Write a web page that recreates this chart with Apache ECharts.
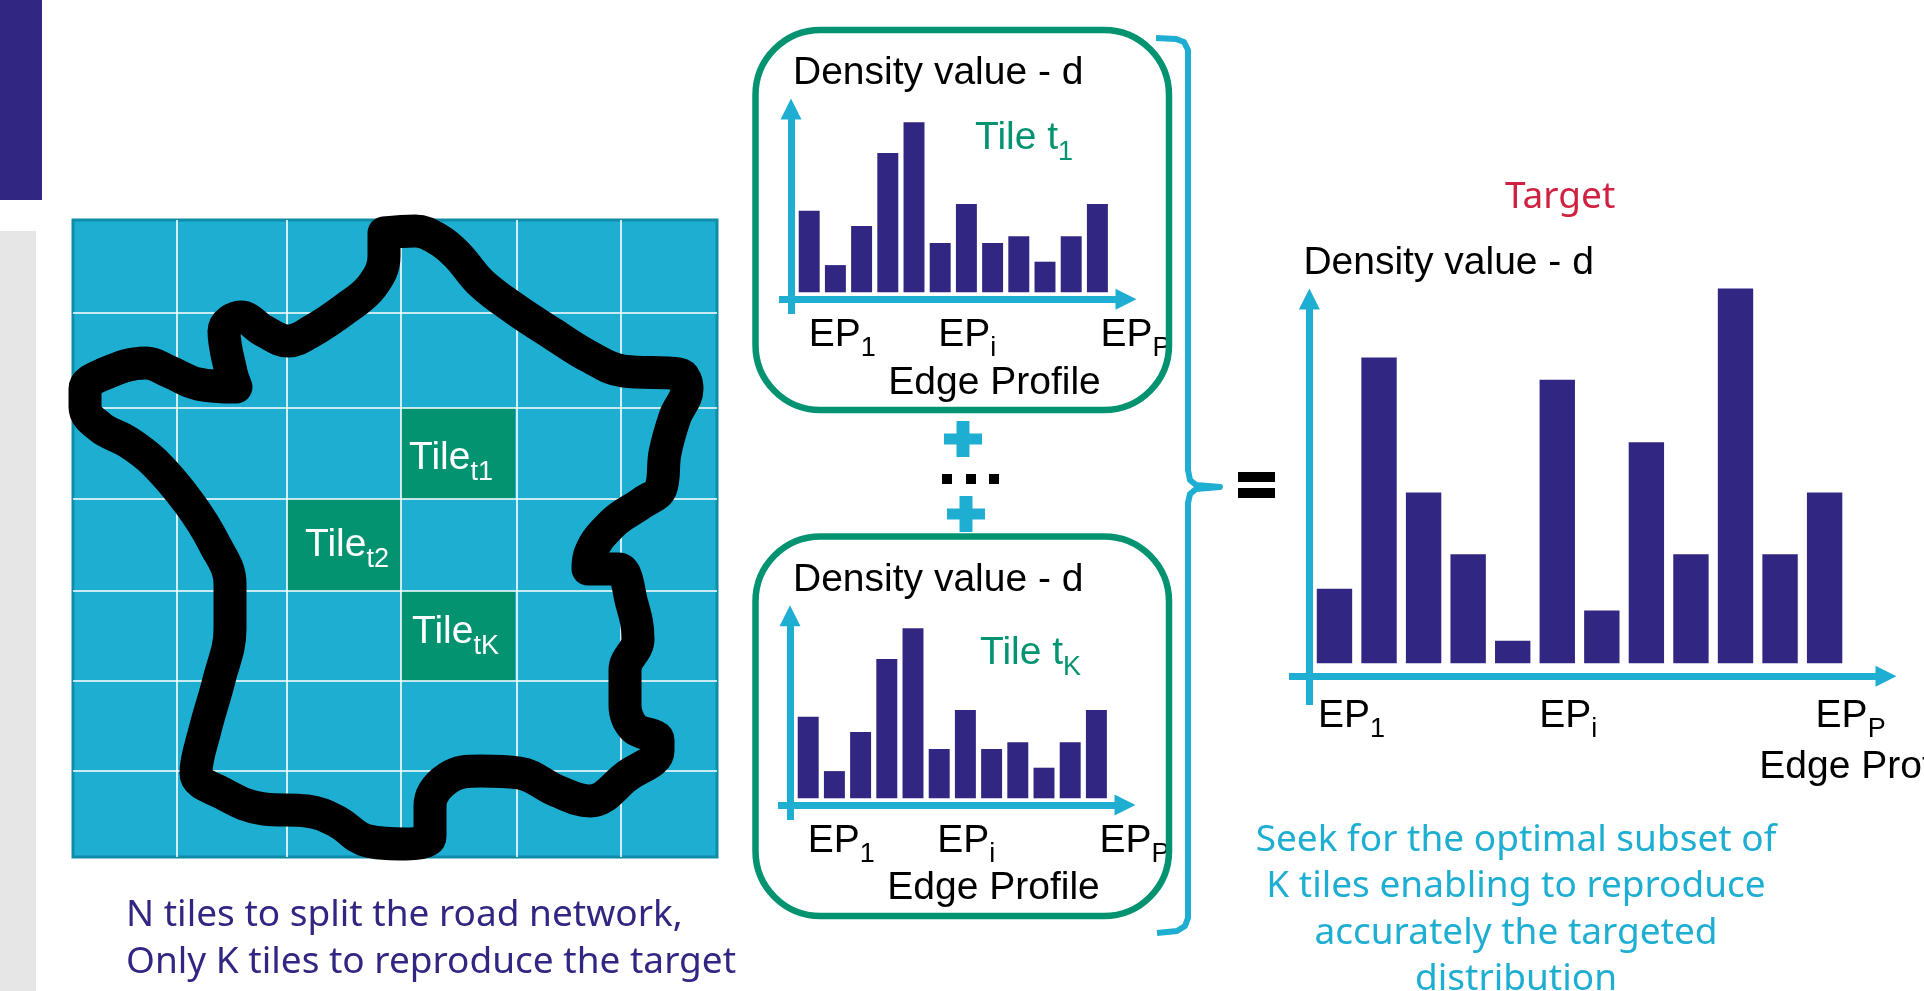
<!DOCTYPE html>
<html><head><meta charset="utf-8">
<style>html,body{margin:0;padding:0;background:#fff;overflow:hidden}#c{width:1924px;height:991px}</style>
<script src="https://cdn.jsdelivr.net/npm/echarts@6/dist/echarts.min.js"></script>
</head><body><div id="c"></div>
<script>
// ---------- data ----------
const profileCategories = ['EP1','EP2','EP3','EP4','EP5','EPi','EP7','EP8','EP9','EP10','EP11','EPP'];
const tileT1Values = [48,16,39,82,100,29,52,29,33,18,33,52];
const tileTKValues = [48,16,39,82,100,29,52,29,33,18,33,52];
const targetValues = [19.9,81.6,45.6,29.1,6,75.7,14.1,59,29.1,100,29.1,45.6];
const densityLabel = 'Density value - d';
const edgeLabel = 'Edge Profile';
// tile map, in map units
const mapVerticalCuts = [104,214,328,444,548];
const mapHorizontalCuts = [93,188,279,371,461,551];
const selectedTiles = [[328,188,442,279],[214,279,328,371],[328,371,442,461]];
const franceX = [311,342,366,385,408,442,480,517,550,606,614,602,592,588,569,540,517,515,545,559,565,552,552,561,585,585,554,517,484,446,408,375,357,357,333,295,263,234,191,149,123,132,146,157,157,141,116,82,55,27,12,12,31,73,97,125,163,158,151,168,191,215,239,272,299,311,311];
const franceY = [13,11,20,36,63,89,114,137,151,154,169,197,233,268,283,303,334,349,349,384,419,450,485,508,520,531,556,581,571,553,551,558,586,616,624,621,601,591,589,573,553,510,460,409,364,323,283,243,222,207,187,169,154,143,152,164,167,152,111,97,111,121,111,89,66,36,13];

// ---------- styles ----------
const INK='#312783', CYAN='#1EAED2', GREEN='#039370', RED='#CF2140';
const SANS='"Liberation Sans",Arial,sans-serif', HUM='"Noto Sans",sans-serif';
const FS=39, SUB=27, DROP=8;

function richStyles(color,fs,sub,drop){
  return {
    b:{fontFamily:SANS,fontSize:fs,fill:color,verticalAlign:'top',padding:[0,0,drop,0]},
    s:{fontFamily:SANS,fontSize:sub,fill:color,verticalAlign:'bottom',lineHeight:sub}
  };
}
function subText(x,y,base,sub,color,fs,subfs,drop){
  return {type:'text',x,y,z:20,style:{text:`{b|${base}}{s|${sub}}`,rich:richStyles(color,fs,subfs,drop),align:'left',verticalAlign:'top'}};
}
function plainText(x,baseline,text,color,family,fs,align){
  return {type:'text',x,y:baseline-0.3*fs,z:20,style:{text,fill:color,fontFamily:family,fontSize:fs,align:align||'left',verticalAlign:'middle'}};
}
function rect(x,y,w,h,fill,z){return {type:'rect',z:z||5,shape:{x,y,width:w,height:h},style:{fill}};}
function plus(cx,cy){return [rect(cx-19,cy-5.5,38,11,CYAN),rect(cx-6.5,cy-18,13,36,CYAN)];}
function box(y0,y1){return {type:'rect',z:100,shape:{x:755.5,y:y0,width:413.5,height:y1-y0,r:65},style:{fill:'none',stroke:GREEN,lineWidth:6.5}};}

// each chart: one grid for the bars, one grid for the crossing arrow axes
const axisArrow={show:true,onZero:false,symbol:['none','triangle'],symbolSize:[21,21],lineStyle:{color:CYAN,width:7,cap:'butt'}};
function frameAxes(f,nameLeftPad,edgePad,edgeGap){
  return {
    x:{type:'value',gridIndex:f.g,min:0,max:1,offset:f.xOff,axisLine:axisArrow,axisTick:{show:false},axisLabel:{show:false},splitLine:{show:false},
       name:edgeLabel,nameLocation:'middle',nameGap:edgeGap,nameTextStyle:{fontFamily:SANS,fontSize:FS,color:'#000',padding:[0,0,0,edgePad],verticalAlign:'top'}},
    y:{type:'value',gridIndex:f.g,min:0,max:1,offset:f.yOff,axisLine:axisArrow,axisTick:{show:false},axisLabel:{show:false},splitLine:{show:false},
       name:densityLabel,nameLocation:'end',nameGap:f.nameGap,nameTextStyle:{fontFamily:SANS,fontSize:FS,color:'#000',align:'left',verticalAlign:'bottom',padding:[0,0,0,nameLeftPad]}}
  };
}
function tickRich(pads){
  const r={s:{fontFamily:SANS,fontSize:SUB,color:'#000',verticalAlign:'bottom',lineHeight:SUB}};
  pads.forEach((p,i)=>{r['b'+i]={fontFamily:SANS,fontSize:FS,color:'#000',verticalAlign:'top',padding:[0,0,DROP,p]};});
  return r;
}
function barAxes(g,margin,pads){
  const shown=[0,5,11];
  return {
    x:{type:'category',gridIndex:g,data:profileCategories,axisLine:{show:false},axisTick:{show:false},splitLine:{show:false},
       axisLabel:{show:true,interval:(i)=>shown.includes(i),margin,align:'center',rich:tickRich(pads),
         formatter:(v,i)=>{const k=shown.indexOf(i);return k<0?'':`{b${k}|EP}{s|${v.slice(2)}}`;}}},
    y:{type:'value',gridIndex:g,min:0,max:100,show:false,splitLine:{show:false}}
  };
}
const fr1=frameAxes({g:1,xOff:-14.7,yOff:-12,nameGap:16},2,84,64);
const fr2=frameAxes({g:3,xOff:-15,yOff:-12,nameGap:16},3,84,64);
const fr3=frameAxes({g:5,xOff:-28.7,yOff:-20.4,nameGap:16},-6,556,71);
const ba1=barAxes(0,23,[66,54,76]);
const ba2=barAxes(2,23,[66,54,76]);
const ba3=barAxes(4,33,[34,22,52]);

const mapGridLines=[];
mapVerticalCuts.forEach(v=>mapGridLines.push([v,0,v,637]));
mapHorizontalCuts.forEach(h=>mapGridLines.push([0,h,644,h]));

const OB={outerBoundsMode:'none'};
const option={
  animation:false,backgroundColor:'#fff',
  grid:[
    {...OB,left:796.1,top:122.3,width:314.4,height:170},
    {...OB,left:779,top:109,width:347,height:205},
    {...OB,left:795.1,top:628.3,width:314.4,height:170},
    {...OB,left:778,top:615.7,width:347,height:204.3},
    {...OB,left:1312.2,top:288.6,width:534.7,height:374.7},
    {...OB,left:1289,top:299,width:597,height:406},
    {...OB,left:73,top:220,width:644,height:637,show:true,backgroundColor:CYAN,borderColor:'#0E8CA8',borderWidth:3}
  ],
  xAxis:[ba1.x,fr1.x,ba2.x,fr2.x,ba3.x,fr3.x,
    {type:'value',gridIndex:6,min:0,max:644,show:false,splitLine:{show:false}}],
  yAxis:[ba1.y,fr1.y,ba2.y,fr2.y,ba3.y,fr3.y,
    {type:'value',gridIndex:6,min:0,max:637,inverse:true,show:false,splitLine:{show:false}}],
  series:[
    {type:'bar',name:'Tile t1',xAxisIndex:0,yAxisIndex:0,data:tileT1Values,barCategoryGap:'20%',itemStyle:{color:INK}},
    {type:'bar',name:'Tile tK',xAxisIndex:2,yAxisIndex:2,data:tileTKValues,barCategoryGap:'20%',itemStyle:{color:INK}},
    {type:'bar',name:'Target',xAxisIndex:4,yAxisIndex:4,data:targetValues,barCategoryGap:'20.6%',itemStyle:{color:INK}},
    {type:'custom',name:'Selected tiles',xAxisIndex:6,yAxisIndex:6,data:selectedTiles,z:2,clip:false,silent:true,
      encode:{x:[0,2],y:[1,3]},
      renderItem:(p,api)=>{
        const a=api.coord([api.value(0),api.value(1)]),b=api.coord([api.value(2),api.value(3)]);
        return {type:'rect',shape:{x:a[0],y:a[1],width:b[0]-a[0],height:b[1]-a[1]},style:{fill:GREEN}};
      }},
    {type:'custom',name:'Tile grid',xAxisIndex:6,yAxisIndex:6,data:mapGridLines,z:3,clip:false,silent:true,
      encode:{x:[0,2],y:[1,3]},
      renderItem:(p,api)=>{
        const a=api.coord([api.value(0),api.value(1)]),b=api.coord([api.value(2),api.value(3)]);
        return {type:'line',shape:{x1:a[0],y1:a[1],x2:b[0],y2:b[1]},style:{stroke:'#fff',lineWidth:1.6}};
      }},
    {type:'line',name:'Road network outline',xAxisIndex:6,yAxisIndex:6,z:4,clip:false,silent:true,symbol:'none',smooth:0.4,
      data:franceX.map((x,i)=>[x,franceY[i]]),
      lineStyle:{color:'#000',width:33,cap:'round',join:'round'}}
  ],
  graphic:{elements:[
    rect(0,0,42,200,INK),
    rect(0,231,36,760,'#E6E6E6'),
    box(30,410),box(536.5,916),
    ...plus(963,439),...plus(966,514),
    rect(942,474,10,10,'#000'),rect(966,474,10,10,'#000'),rect(989,474,10,10,'#000'),
    rect(1238,472,37,10,'#000'),rect(1238,488,37,10,'#000'),
    {type:'polyline',z:6,shape:{points:[[1156,38],[1176,39],[1184,42],[1188,50],[1188,470],[1190,480],[1196,485],[1220,487],[1196,489],[1190,494],[1188,503],[1188,918],[1185,926],[1177,931],[1157,933]]},style:{fill:'none',stroke:CYAN,lineWidth:6,lineJoin:'round'}},
    subText(975,119,'Tile t','1',GREEN,FS,SUB,DROP),
    subText(980,634,'Tile t','K',GREEN,FS,SUB,DROP),
    subText(409,439,'Tile','t1','#fff',FS,SUB,DROP),
    subText(305,526,'Tile','t2','#fff',FS,SUB,DROP),
    subText(412,613,'Tile','tK','#fff',FS,SUB,DROP),
    plainText(1505,209,'Target',RED,HUM,37),
    plainText(126,927,'N tiles to split the road network,',INK,HUM,37),
    plainText(126,974,'Only K tiles to reproduce the target',INK,HUM,37),
    plainText(1516,852,'Seek for the optimal subset of',CYAN,HUM,37,'center'),
    plainText(1516,898,'K tiles enabling to reproduce',CYAN,HUM,37,'center'),
    plainText(1516,945,'accurately the targeted',CYAN,HUM,37,'center'),
    plainText(1516,991,'distribution',CYAN,HUM,37,'center')
  ]}
};
echarts.init(document.getElementById('c'),null,{renderer:'canvas'}).setOption(option);
</script></body></html>
